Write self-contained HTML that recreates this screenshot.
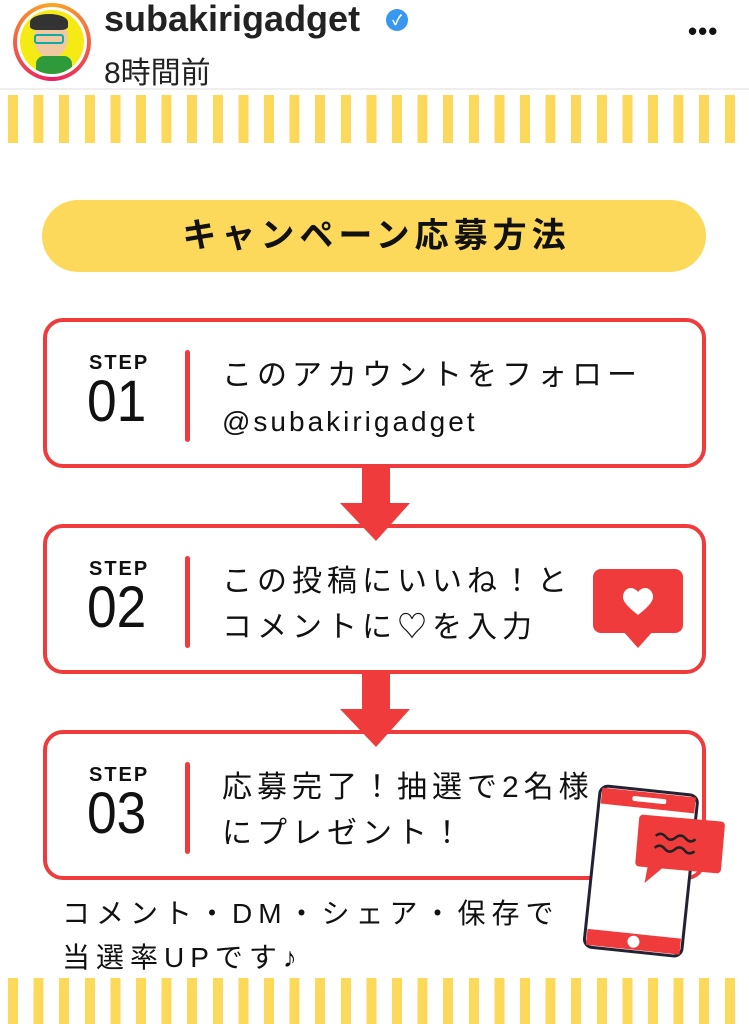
<!DOCTYPE html>
<html><head><meta charset="utf-8"><style>
*{margin:0;padding:0;box-sizing:border-box}
body{width:749px;height:1024px;background:#fff;position:relative;overflow:hidden;font-family:"Liberation Sans","Noto Sans CJK JP",sans-serif;color:#111}
.abs{position:absolute}
.stripes{position:absolute;left:0;width:749px;background:repeating-linear-gradient(90deg,#fff 0 8px,#fcd95a 8px 18px,#fff 18px 25.6px)}
.box{position:absolute;left:43px;width:663px;height:150px;border:4px solid #ef3b3b;border-radius:20px;background:#fff}
.step{position:absolute;left:42px;top:30px;font-weight:bold;font-size:20px;letter-spacing:2px}
.num{position:absolute;left:40px;top:48px;font-size:58px;line-height:64px;font-weight:300;transform:scaleX(0.92);transform-origin:left}
.bar{position:absolute;left:138px;top:28px;width:5px;height:92px;background:#ef3b3b;border-radius:3px}
.t{position:absolute;left:175px;font-size:30px;letter-spacing:5px;line-height:36px;white-space:nowrap}
</style></head><body>
<div class="abs" style="left:13px;top:3px;width:78px;height:78px;border-radius:50%;background:conic-gradient(#f9a825,#e91e63,#f9a825)"></div>
<div class="abs" style="left:17px;top:7px;width:70px;height:70px;border-radius:50%;background:#fff"></div>
<div class="abs" style="left:20px;top:10px;width:64px;height:64px;border-radius:50%;background:#f5ea14;overflow:hidden">
 <div class="abs" style="left:14px;top:8px;width:34px;height:40px;border-radius:50%;background:#f1c9a0"></div>
 <div class="abs" style="left:10px;top:4px;width:38px;height:16px;border-radius:50% 50% 20% 20%;background:#333"></div>
 <div class="abs" style="left:14px;top:24px;width:30px;height:10px;border:2px solid #1aa;border-radius:3px"></div>
 <div class="abs" style="left:16px;top:46px;width:36px;height:24px;background:#2e9a3a;border-radius:8px"></div>
</div>
<div class="abs" style="left:104px;top:-2px;font-size:36px;font-weight:bold;color:#222">subakirigadget</div>
<div class="abs" style="left:386px;top:9px;width:22px;height:22px;border-radius:50%;background:#3897f0;color:#fff;font-size:14px;text-align:center;line-height:22px;font-weight:bold">✓</div>
<div class="abs" style="left:104px;top:48px;font-size:30px;color:#222">8時間前</div>
<div class="abs" style="left:688px;top:16px;font-size:26px;font-weight:bold;letter-spacing:1px">•••</div>
<div class="abs" style="left:0;top:88px;width:749px;height:2px;background:#eee"></div>
<div class="stripes" style="top:95px;height:48px"></div>
<div class="stripes" style="top:978px;height:46px"></div>

<div class="abs" style="left:42px;top:200px;width:664px;height:72px;border-radius:36px;background:#fcd95a;text-align:center;font-size:34px;font-weight:bold;line-height:72px;letter-spacing:5px;padding-left:5px">キャンペーン応募方法</div>

<div class="box" style="top:318px"><div class="step">STEP</div><div class="num">01</div><div class="bar"></div>
<div class="t" style="top:36px">このアカウントをフォロー</div><div class="t" style="top:82px;font-size:28px;letter-spacing:3px">@subakirigadget</div></div>
<div class="box" style="top:524px"><div class="step">STEP</div><div class="num">02</div><div class="bar"></div>
<div class="t" style="top:36px">この投稿にいいね！と</div><div class="t" style="top:82px">コメントに♡を入力</div></div>
<div class="box" style="top:730px"><div class="step">STEP</div><div class="num">03</div><div class="bar"></div>
<div class="t" style="top:36px">応募完了！抽選で2名様</div><div class="t" style="top:82px">にプレゼント！</div></div>

<svg class="abs" style="left:0;top:0" width="749" height="1024">
<g fill="#ef3b3b">
<path d="M362 468H390V503H410L376 541L340 503H362Z"/>
<path d="M362 674H390V709H410L376 747L340 709H362Z"/>
<rect x="593" y="569" width="90" height="64" rx="8"/><path d="M622 630L638 648L654 630Z"/>
</g>
<path d="M638 615C624 604 620 598 625 591C629 586 635 588 638 592C641 588 647 586 651 591C656 598 652 604 638 615Z" fill="#fff"/>
<g transform="rotate(6 640 870)">
<rect x="592" y="790" width="98" height="162" rx="8" fill="#fff" stroke="#223" stroke-width="3"/>
<rect x="594" y="792" width="94" height="16" fill="#ef3b3b"/>
<rect x="594" y="934" width="94" height="16" fill="#ef3b3b"/>
<circle cx="641" cy="942" r="6" fill="#fff"/>
<rect x="625" y="797" width="34" height="5" rx="2" fill="#fff"/>
</g>
<g transform="rotate(5 680 845)">
<rect x="637" y="818" width="86" height="52" rx="4" fill="#ef3b3b"/><path d="M650 866L648 886L668 866Z" fill="#ef3b3b"/>
<path d="M655 838q5-5 10 0t10 0t10 0t10 0M655 850q5-5 10 0t10 0t10 0t10 0" stroke="#222" stroke-width="2.5" fill="none"/>
</g>
</svg>

<div class="abs" style="left:62px;top:892px;font-size:28px;letter-spacing:6px;line-height:44px">コメント・DM・シェア・保存で<br>当選率UPです♪</div>
</body></html>
